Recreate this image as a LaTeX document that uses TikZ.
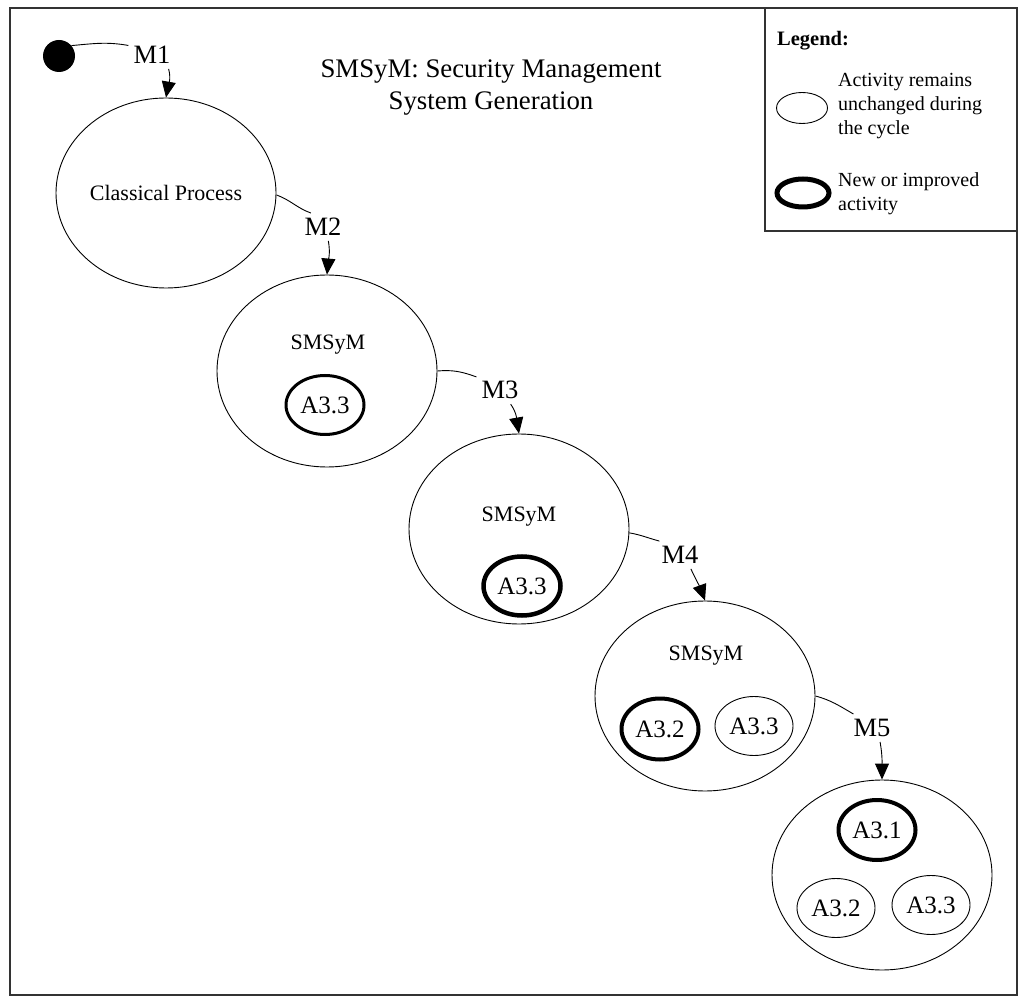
\documentclass[tikz,border=0pt]{standalone}
\usepackage{fontspec}
\setmainfont{Liberation Serif}
\usetikzlibrary{shapes.geometric,arrows.meta}
\begin{document}
\begin{tikzpicture}[x=1pt,y=1pt,
  frame/.style={draw=black!80,line width=1.3pt},
  big/.style={ellipse,draw,line width=0.9pt,minimum width=220pt,minimum height=190pt,inner sep=0pt},
  act/.style={ellipse,draw,line width=0.9pt,minimum width=78pt,minimum height=59pt,inner sep=0pt,font=\fontsize{25}{30}\selectfont},
  newact/.style={act,line width=4pt,minimum width=77pt},
  mlab/.style={inner sep=5pt,font=\fontsize{26.5}{32}\selectfont},
  sm/.style={inner sep=0pt,font=\fontsize{22}{26}\selectfont},
  ttl/.style={inner sep=0pt,anchor=base,font=\fontsize{26.8}{32}\selectfont},
  lgt/.style={inner sep=0pt,anchor=base west,font=\fontsize{20}{24}\selectfont},
  conn/.style={line width=0.9pt},
  arr/.style={conn,-{Triangle[length=16pt,width=14pt]}}
]
\useasboundingbox (0,0) rectangle (1024,1002);
% frames
\draw[frame] (10,7) rectangle (1017,994);
\draw[frame] (765,771) rectangle (1017,994);
% title
\node[ttl] (t1) at (491,924) {SMSyM: Security Management};
\node[ttl] (t2) at (491,892) {System Generation};
% legend
\node[lgt,font=\fontsize{20.5}{24}\selectfont\bfseries] (lgh) at (777,956) {Legend:};
\node[ellipse,draw,line width=0.9pt,minimum width=51pt,minimum height=31pt,inner sep=0pt] (lge1) at (802,894) {};
\node[lgt] (lg1a) at (838,915) {Activity remains};
\node[lgt] (lg1b) at (838,891) {unchanged during};
\node[lgt] (lg1c) at (838,867) {the cycle};
\node[ellipse,draw,line width=5pt,minimum width=52pt,minimum height=28pt,inner sep=0pt] (lge2) at (803,809) {};
\node[lgt] (lg2a) at (838,815) {New or improved};
\node[lgt] (lg2b) at (838,791) {activity};
% start
\node[circle,fill=black,minimum size=32pt,inner sep=0pt] (dot) at (59,946) {};
% big ellipses
\node[big,font=\fontsize{22}{26}\selectfont] (e1) at (166,809) {Classical Process};
\node[big,minimum height=192pt] (e2) at (327,631) {};
\node[big] (e3) at (519,473) {};
\node[big] (e4) at (705,306) {};
\node[big] (e5) at (882,127) {};
% inner labels
\node[sm] (s2) at (328,657) {SMSyM};
\node[act,line width=3pt] (a2) at (325,597) {A3.3};
\node[sm] (s3) at (519,485) {SMSyM};
\node[newact,line width=4.5pt] (a3) at (522,416) {A3.3};
\node[sm] (s4) at (706,346) {SMSyM};
\node[newact,minimum height=61pt] (a4b) at (660,273) {A3.2};
\node[act] (a4c) at (754,276) {A3.3};
\node[newact,minimum height=60pt] (a5a) at (877,172) {A3.1};
\node[act] (a5b) at (836,94) {A3.2};
\node[act] (a5c) at (931,97) {A3.3};
% M labels
\node[mlab] (m1) at (152,947) {M1};
\node[mlab] (m2) at (323,775) {M2};
\node[mlab] (m3) at (500,612) {M3};
\node[mlab] (m4) at (680,447) {M4};
\node[mlab] (m5) at (872,274) {M5};
% connectors
\draw[conn] (dot.40) to[out=5,in=170] (m1.158);
\draw[arr] (m1.-40) to[out=-75,in=80] (e1.north);
\draw[conn] (e1.-1) to[out=-20,in=160] (m2.131);
\draw[arr] (m2.-69) to[out=-80,in=85] (e2.north);
\draw[conn] (e2.east) to[out=5,in=160] (m3.151);
\draw[arr] (m3.-53) to[out=-55,in=100] (e3.north);
\draw[conn] (e3.-2) to[out=-10,in=165] (m4.146);
\draw[arr] (m4.-52) to[out=-65,in=110] (e4.north);
\draw[conn] (e4.east) to[out=-15,in=150] (m5.143);
\draw[arr] (m5.-60) to[out=-80,in=90] (e5.north);
\end{tikzpicture}
\end{document}
